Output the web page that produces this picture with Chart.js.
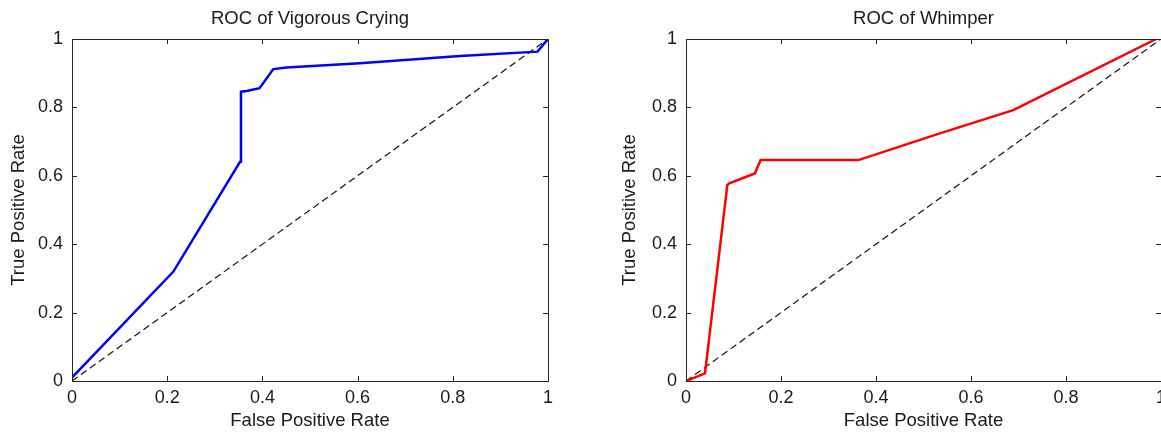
<!DOCTYPE html>
<html>
<head>
<meta charset="utf-8">
<script src="https://cdn.jsdelivr.net/npm/chart.js@4.4.1/dist/chart.umd.min.js"></script>
<style>
  html, body { margin: 0; padding: 0; background: #fff; overflow: hidden; }
  body { width: 1161px; height: 435px; position: relative; }
  .box { position: absolute; top: 0; width: 600px; height: 435px; }
</style>
</head>
<body>
<div class="box" style="left:0px"><canvas id="vigChart"></canvas></div>
<div class="box" style="left:600px"><canvas id="whimChart"></canvas></div>
<script>
// ROC points
var vigFpr = [0, 0.213, 0.353, 0.355, 0.367, 0.394, 0.423, 0.451, 0.605, 0.815, 0.978, 1];
var vigTpr = [0.01, 0.32, 0.641, 0.846, 0.848, 0.856, 0.912, 0.917, 0.929, 0.950, 0.963, 1];

var whimFpr = [0, 0.04, 0.087, 0.091, 0.145, 0.157, 0.363, 0.528, 0.689, 0.99];
var whimTpr = [0, 0.022, 0.573, 0.578, 0.607, 0.646, 0.646, 0.721, 0.792, 1];

// chance line
var diagX = [0, 1];
var diagY = [0, 1];

var tickValues = [0, 0.2, 0.4, 0.6, 0.8, 1];
var tickLabels = ['0', '0.2', '0.4', '0.6', '0.8', '1'];

var FONT = 'Liberation Sans, Arial, Helvetica, sans-serif';

function toPoints(xs, ys) {
    return xs.map(function (x, i) { return {x: x, y: ys[i]}; });
}

// matlab style box with inward ticks
var boxPlugin = {
    id: 'boxPlugin',
    afterDraw: function (chart) {
        var ctx = chart.ctx, a = chart.chartArea;
        var xs = chart.scales.x, ys = chart.scales.y;
        ctx.save();
        ctx.strokeStyle = '#262626';
        ctx.lineWidth = 1;
        ctx.beginPath();
        tickValues.forEach(function (v) {
            var px = Math.round(xs.getPixelForValue(v)) + 0.5;
            ctx.moveTo(px, a.bottom); ctx.lineTo(px, a.bottom - 5);
            ctx.moveTo(px, a.top); ctx.lineTo(px, a.top + 5);
            var py = Math.round(ys.getPixelForValue(v)) + 0.5;
            ctx.moveTo(a.left, py); ctx.lineTo(a.left + 5, py);
            ctx.moveTo(a.right, py); ctx.lineTo(a.right - 5, py);
        });
        ctx.stroke();
        ctx.strokeRect(Math.round(a.left) + 0.5, Math.round(a.top) + 0.5,
            Math.round(a.right - a.left), Math.round(a.bottom - a.top));
        ctx.restore();
    }
};

function makeRoc(id, title, xs, ys, color, yWidth, yTitlePad, rightPad) {
    var ctx = document.getElementById(id).getContext('2d');
    return new Chart(ctx, {
        type: 'scatter',
        data: {
            datasets: [{
                data: toPoints(xs, ys),
                showLine: true,
                borderColor: color,
                borderWidth: 2.5,
                pointRadius: 0,
                tension: 0
            }, {
                data: toPoints(diagX, diagY),
                showLine: true,
                borderColor: '#111',
                borderWidth: 1.2,
                borderDash: [7, 4],
                pointRadius: 0
            }]
        },
        options: {
            responsive: false,
            animation: false,
            layout: { padding: { left: 0, right: rightPad, top: 0, bottom: 0 } },
            plugins: {
                legend: { display: false },
                tooltip: { enabled: false },
                title: {
                    display: true,
                    text: title,
                    fullSize: false,
                    color: '#1a1a1a',
                    font: { family: FONT, size: 18.5, weight: 'normal' },
                    padding: { top: 8, bottom: 8.8 }
                }
            },
            scales: {
                x: {
                    type: 'linear',
                    min: 0, max: 1,
                    afterBuildTicks: function (s) { s.ticks = tickValues.map(function (v) { return {value: v}; }); },
                    afterFit: function (s) { s.height = 54; },
                    grid: { display: false, drawTicks: false },
                    border: { display: false },
                    ticks: {
                        padding: 6,
                        color: '#1a1a1a',
                        font: { family: FONT, size: 18 },
                        maxRotation: 0,
                        callback: function (v) { return tickLabels[tickValues.indexOf(v)]; }
                    },
                    title: {
                        display: true,
                        text: 'False Positive Rate',
                        color: '#1a1a1a',
                        font: { family: FONT, size: 18.5 },
                        padding: { top: 0, bottom: 3 }
                    }
                },
                y: {
                    type: 'linear',
                    min: 0, max: 1,
                    afterBuildTicks: function (s) { s.ticks = tickValues.map(function (v) { return {value: v}; }); },
                    afterFit: function (s) { s.width = yWidth; },
                    grid: { display: false, drawTicks: false },
                    border: { display: false },
                    ticks: {
                        padding: 9,
                        color: '#1a1a1a',
                        font: { family: FONT, size: 18 },
                        callback: function (v) { return tickLabels[tickValues.indexOf(v)]; }
                    },
                    title: {
                        display: true,
                        text: 'True Positive Rate',
                        color: '#1a1a1a',
                        font: { family: FONT, size: 18.5 },
                        padding: { top: yTitlePad, bottom: 0 }
                    }
                }
            }
        },
        plugins: [boxPlugin]
    });
}

var c1 = document.getElementById('vigChart');
c1.width = 600; c1.height = 435;
var c2 = document.getElementById('whimChart');
c2.width = 600; c2.height = 435;

makeRoc('vigChart', 'ROC of Vigorous Crying', vigFpr, vigTpr, '#0000ff', 72, 8, 52);
makeRoc('whimChart', 'ROC of Whimper', whimFpr, whimTpr, '#ff0000', 86, 18.5, 39);
</script>
</body>
</html>
